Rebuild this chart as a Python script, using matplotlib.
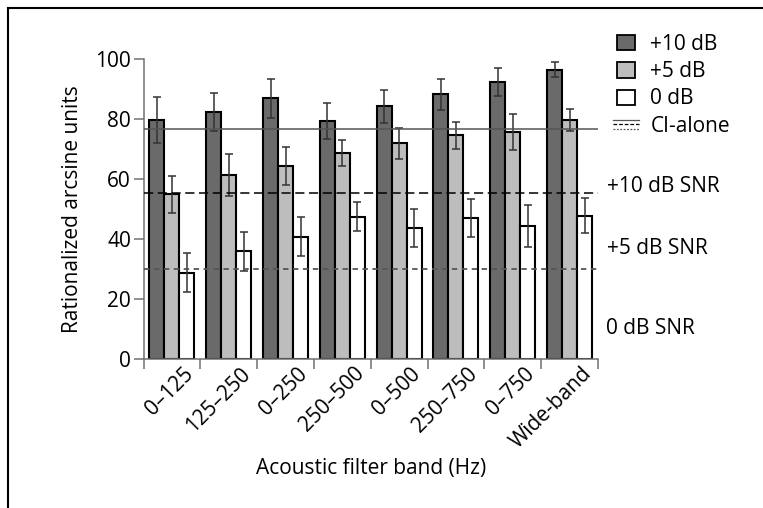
import numpy as np
import matplotlib
matplotlib.use("Agg")
import matplotlib.pyplot as plt
import matplotlib.transforms as mtransforms
from matplotlib.lines import Line2D
from matplotlib.patches import Patch
from matplotlib.legend_handler import HandlerBase

bands = ["0–125", "125–250", "0–250", "250–500", "0–500", "250–750", "0–750", "Wide-band"]
plus10 = [79.6, 82.4, 86.9, 79.3, 84.3, 88.2, 92.4, 96.4]
plus10_err = [7.6, 6.3, 6.5, 6.0, 5.5, 5.2, 4.7, 2.5]
plus5 = [54.9, 61.2, 64.3, 68.6, 71.9, 74.6, 75.7, 79.6]
plus5_err = [6.1, 7.0, 6.3, 4.3, 5.2, 4.5, 5.9, 3.7]
zero = [28.8, 35.9, 40.8, 47.4, 43.6, 47.1, 44.3, 47.8]
zero_err = [6.5, 6.4, 6.4, 4.8, 6.4, 6.4, 7.1, 5.8]
# CI-alone reference levels
ci_quiet = 76.6
ci_10 = 55.2
ci_5 = 30.0

plt.rcParams["font.family"] = ["Open Sans", "DejaVu Sans"]
FS = 15

fig = plt.figure(figsize=(7.63, 5.08), dpi=100)
ax = fig.add_axes([143.5 / 763, 1 - 359 / 508, 454.5 / 763, 300 / 508])

x = np.arange(len(bands))
w = 0.264
series = [(plus10, plus10_err, "#6a6a6a", "+10 dB"),
          (plus5, plus5_err, "#bdbdbd", "+5 dB"),
          (zero, zero_err, "white", "0 dB")]
for i, (vals, errs, color, label) in enumerate(series):
    pos = x + (i - 1) * w
    ax.bar(pos, vals, w, color=color, edgecolor="black", linewidth=1.5, zorder=2)
    ax.errorbar(pos, vals, yerr=errs, fmt="none", ecolor="#333333",
                elinewidth=1.1, capsize=3, capthick=1.1, zorder=3)

ax.axhline(ci_quiet, color="#555555", lw=1.1, zorder=4)
ax.axhline(ci_10, color="black", lw=1.1, ls=(0, (6, 3)), zorder=4)
ax.axhline(ci_5, color="#555555", lw=1.3, ls=(0, (3, 2.5)), zorder=4)

ax.set_xlim(-0.5, len(bands) - 0.5)
ax.set_ylim(0, 100)
ax.set_yticks(np.arange(0, 101, 20))
ax.set_xticks(np.arange(-0.5, len(bands)))
ax.set_xticklabels([])
ax.set_xticks(x, minor=True)
ax.set_xticklabels(bands, minor=True, rotation=45, ha="right",
                   rotation_mode="anchor", fontsize=FS)
ax.tick_params(axis="x", which="minor", length=0, pad=3)
ax.tick_params(axis="x", which="major", length=7, color="#707070", width=1.1)
ax.tick_params(axis="y", length=7, color="#707070", width=1.1, labelsize=FS, pad=2)
offset = mtransforms.ScaledTranslation(11 / 100, 0, fig.dpi_scale_trans)
for lab in ax.get_xticklabels(minor=True):
    lab.set_transform(lab.get_transform() + offset)

for side in ["top", "right"]:
    ax.spines[side].set_visible(False)
for side in ["left", "bottom"]:
    ax.spines[side].set_color("#707070")
    ax.spines[side].set_linewidth(1.1)

ax.set_ylabel("Rationalized arcsine units", fontsize=FS, labelpad=9)
ax.set_xlabel("Acoustic filter band (Hz)", fontsize=FS, labelpad=4)


class CIHandler(HandlerBase):
    def create_artists(self, legend, orig_handle, xdescent, ydescent,
                       width, height, fontsize, trans):
        lines = []
        styles = [("-", "#555555"), ((0, (3, 1.5)), "black"), ((0, (1.5, 1.2)), "#555555")]
        for k, (ls, c) in enumerate(styles):
            yy = height * (0.8 - 0.3 * k) - ydescent
            ln = Line2D([-xdescent - 3, -xdescent + width + 3], [yy, yy], ls=ls,
                        color=c, lw=0.9, transform=trans)
            lines.append(ln)
        return lines


handles = [Patch(facecolor=c, edgecolor="black", linewidth=1.3) for _, _, c, _ in series]
handles.append(Line2D([], []))
labels = [s[3] for s in series] + ["CI-alone"]
leg = fig.legend(handles, labels, loc="upper left",
                 bbox_to_anchor=(617 / 763, 1 - 34 / 508), frameon=False,
                 fontsize=FS, handlelength=0.85, handleheight=0.75,
                 handletextpad=0.75, labelspacing=0.3, borderpad=0,
                 borderaxespad=0, handler_map={Line2D: CIHandler()})

fig.text(607 / 763, 1 - 186 / 508, "+10 dB SNR", fontsize=FS, va="center")
fig.text(607 / 763, 1 - 249 / 508, "+5 dB SNR", fontsize=FS, va="center")
fig.text(606 / 763, 1 - 328 / 508, "0 dB SNR", fontsize=FS, va="center")

# panel frame (left and top edges)
fig.add_artist(Line2D([7.5 / 763, 7.5 / 763], [0, 1 - 7.5 / 508], color="black", lw=1.5))
fig.add_artist(Line2D([7.5 / 763, 1], [1 - 7.5 / 508, 1 - 7.5 / 508], color="black", lw=1.5))

fig.savefig("out.png", dpi=100)
